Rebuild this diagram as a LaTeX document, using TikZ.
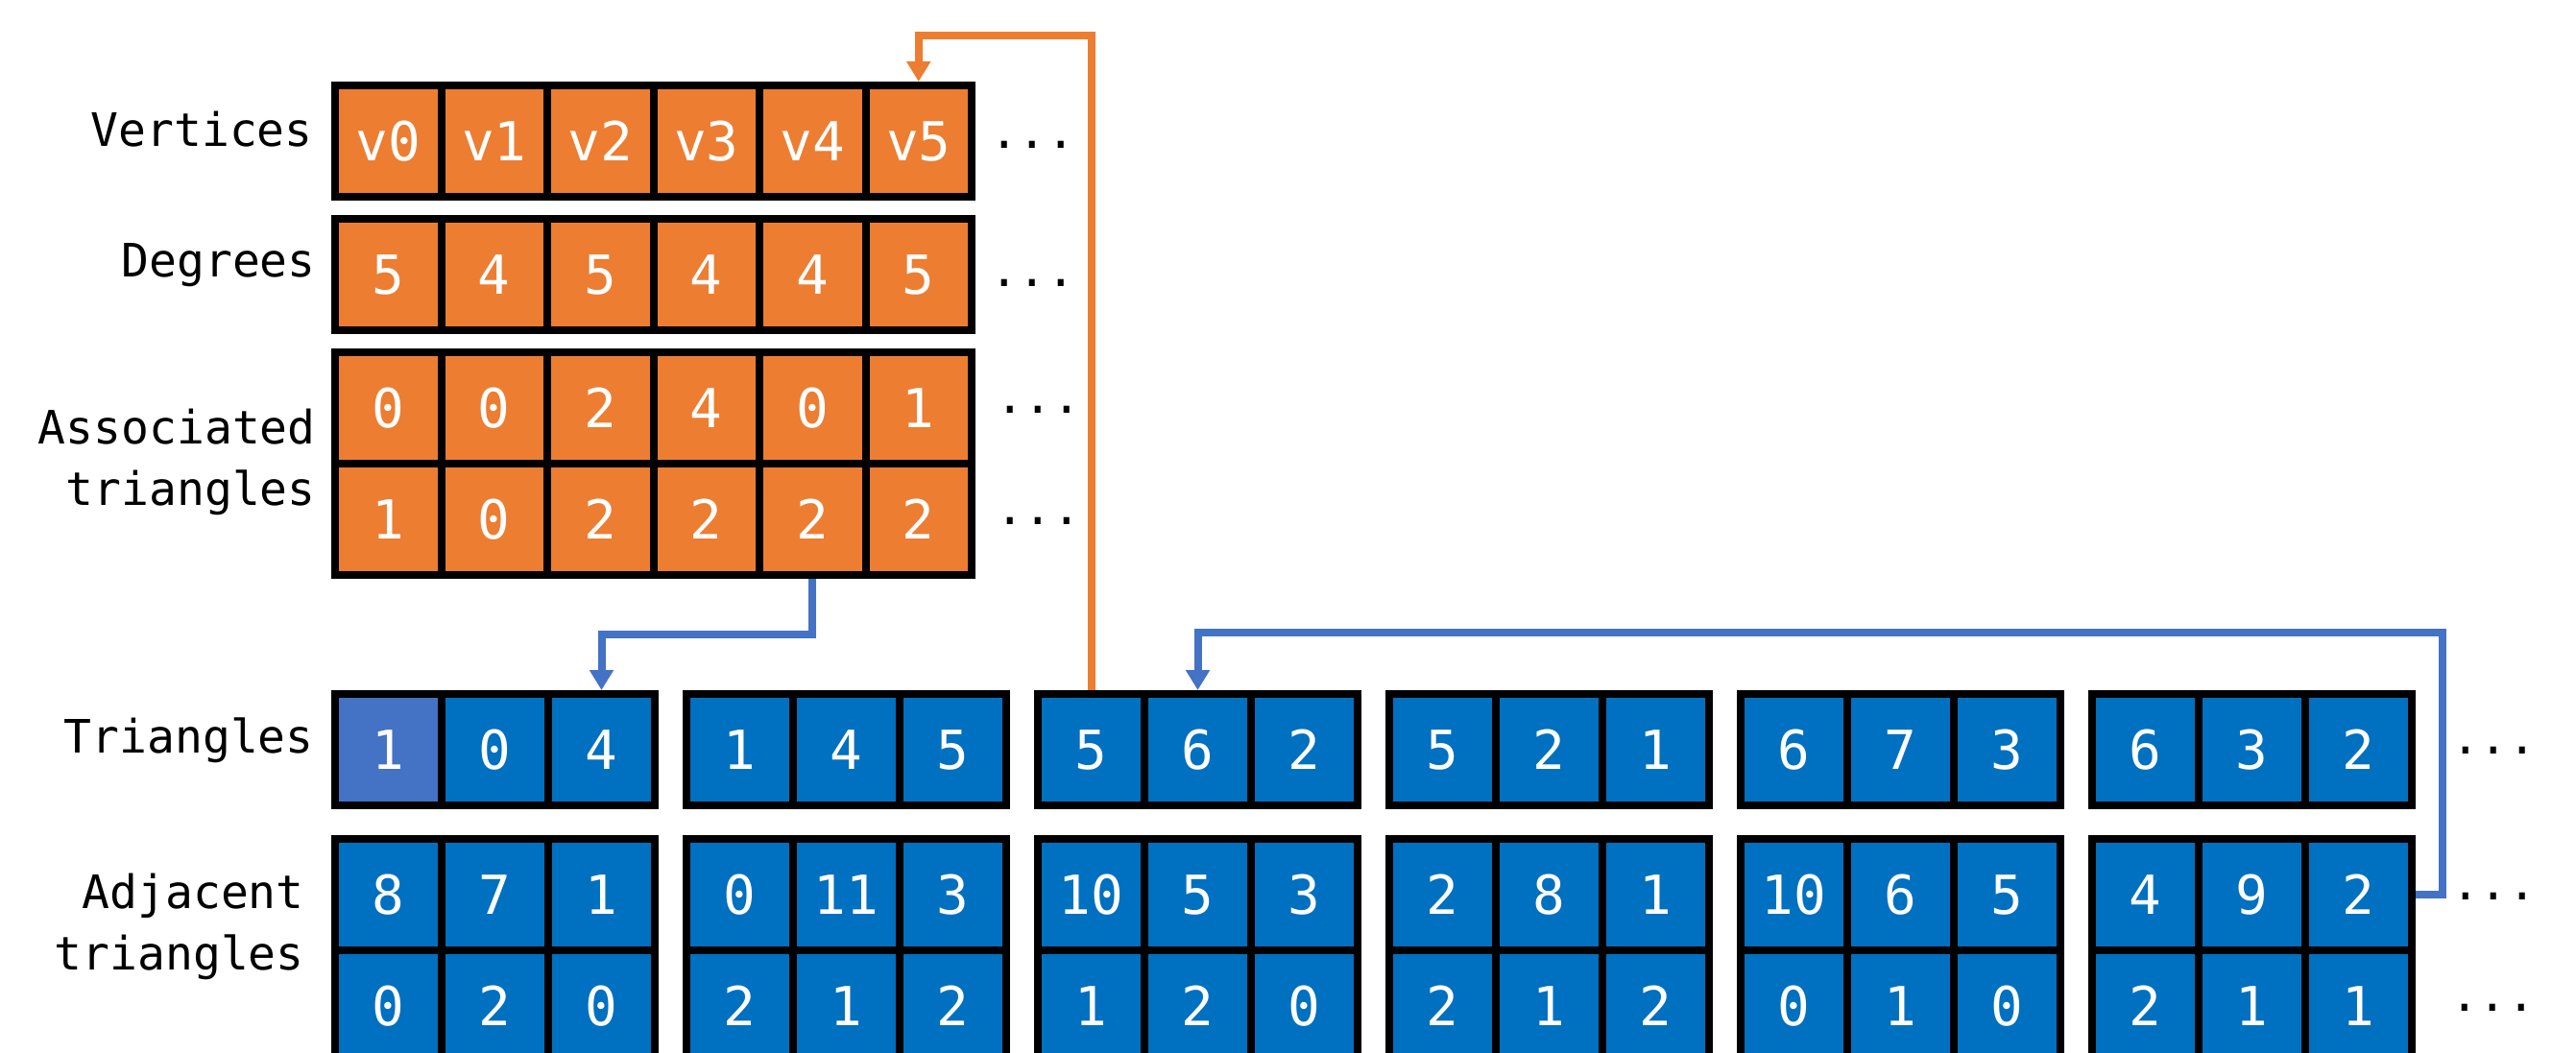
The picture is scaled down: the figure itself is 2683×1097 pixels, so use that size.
\documentclass[tikz,border=0pt]{standalone}
\usepackage{fontspec}
\newfontfamily\cellfont{DejaVu Sans Mono}
\usetikzlibrary{arrows.meta}
\definecolor{cOrange}{HTML}{ED7D31}
\definecolor{cBlue}{HTML}{0070C0}
\definecolor{cLight}{HTML}{4472C4}
\tikzset{
  cellbox/.style={draw=black, line width=8pt, minimum width=111pt, minimum height=116pt,
    inner sep=0pt, text=white, font=\cellfont\fontsize{56}{60}\selectfont,
    text height=41pt, text depth=0pt},
  ocell/.style={cellbox, fill=cOrange, minimum width=110.5pt},
  bcell/.style={cellbox, fill=#1},
  rowlabel/.style={font=\cellfont\fontsize{48}{64}\selectfont, align=right,
    anchor=base east, inner sep=0pt},
  dotstext/.style={font=\cellfont\fontsize{49}{50}\selectfont, anchor=base west, inner sep=0pt},
  link/.style={line width=8pt, -{Triangle[length=21pt,width=24pt]}},
}
\begin{document}
\begin{tikzpicture}[x=1pt,y=-1pt]
\clip (0,0) rectangle (2683,1097);
\fill[white] (0,0) rectangle (2683,1097);

% labels (base anchor of a two-line label is the baseline of its last line)
\node[rowlabel] (lver) at (326,153) {Vertices};
\node[rowlabel] (ldeg) at (329,288.5) {Degrees};
\node[rowlabel] (lass) at (329,526) {Associated\\triangles};
\node[rowlabel] (ltri) at (327,784) {Triangles};
\node[rowlabel] (ladj) at (317,1010) {Adjacent\\triangles};

% connectors
\coordinate (oturn) at (956.75,37.5);
\coordinate (bturn1) at (626.5,661);
\coordinate (bturn2a) at (2543.5,659);
\coordinate (bturn2b) at (1247.5,659);

% orange rows
\foreach \v [count=\i from 0] in {v0,v1,v2,v3,v4,v5}
  \node[ocell, minimum height=115.5pt] (ver\i) at ({404.25+110.5*\i},146.75) {\v};
\foreach \v [count=\i from 0] in {5,4,5,4,4,5}
  \node[ocell] (deg\i) at ({404.25+110.5*\i},286) {\v};
\foreach \v [count=\i from 0] in {0,0,2,4,0,1}
  \node[ocell] (asa\i) at ({404.25+110.5*\i},425) {\v};
\foreach \v [count=\i from 0] in {1,0,2,2,2,2}
  \node[ocell] (asb\i) at ({404.25+110.5*\i},541) {\v};

% blue groups
\foreach \a/\b/\c [count=\g from 0] in {1/0/4,1/4/5,5/6/2,5/2/1,6/7/3,6/3/2}{
  \foreach \v [count=\k from 0] in {\a,\b,\c}{
    \ifnum\g\k=00 \def\fillc{cLight}\else\def\fillc{cBlue}\fi
    \node[bcell=\fillc] (tri\g-\k) at ({404.5+366*\g+111*\k},781) {\v};
  }
}
\foreach \a/\b/\c [count=\g from 0] in {8/7/1,0/11/3,10/5/3,2/8/1,10/6/5,4/9/2}{
  \foreach \v [count=\k from 0] in {\a,\b,\c}
    \node[bcell=cBlue] (adj\g-\k) at ({404.5+366*\g+111*\k},932) {\v};
}
\foreach \a/\b/\c [count=\g from 0] in {0/2/0,2/1/2,1/2/0,2/1/2,0/1/0,2/1/1}{
  \foreach \v [count=\k from 0] in {\a,\b,\c}
    \node[bcell=cBlue] (adk\g-\k) at ({404.5+366*\g+111*\k},1048) {\v};
}

% ellipses
\node[dotstext] (dver) at (1031,155) {...};
\node[dotstext] (ddeg) at (1031,298) {...};
\node[dotstext] (dasa) at (1037,430) {...};
\node[dotstext] (dasb) at (1037,546) {...};
\node[dotstext] (dtri) at (2553,785) {...};
\node[dotstext] (dadj) at (2553,937) {...};
\node[dotstext] (dadk) at (2552,1053) {...};

\draw[link, draw=cOrange] (tri2-0.north) |- (oturn) -- (ver5.north);
\draw[link, draw=cLight] (asb4.south) |- (bturn1) -- (tri0-2.north);
\draw[link, draw=cLight] (adj5-2.east) -| (bturn2a) -- (bturn2b) -- (tri2-1.north);
\end{tikzpicture}
\end{document}
